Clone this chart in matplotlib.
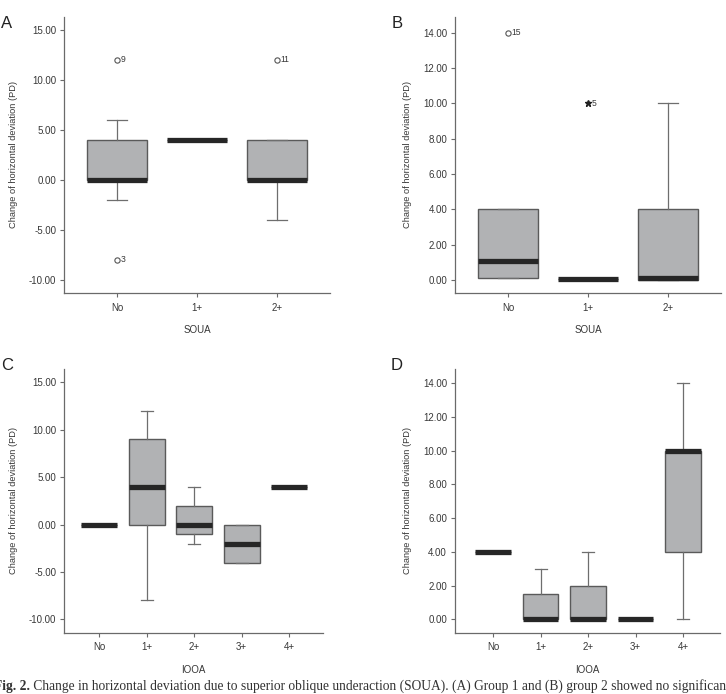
import matplotlib
matplotlib.use("Agg")
import matplotlib.pyplot as plt

plt.rcParams['font.family'] = ['Liberation Sans', 'DejaVu Sans']

# ---------------- data ----------------
# Panel A (SOUA, group 1)
a_cats = ["No", "1+", "2+"]
a_q1 = [0, 4, 0]
a_med = [0, 4, 0]
a_q3 = [4, 4, 4]
a_wlo = [-2, 4, -4]
a_whi = [6, 4, 4]
a_out_x = [0, 0, 2]
a_out_y = [12, -8, 12]
a_out_lab = ["9", "3", "11"]
a_out_kind = ["o", "o", "o"]
a_ticks = [-10, -5, 0, 5, 10, 15]

# Panel B (SOUA, group 2)
b_cats = ["No", "1+", "2+"]
b_q1 = [0.1, 0.05, 0]
b_med = [1.05, 0.05, 0.12]
b_q3 = [4, 0.05, 4]
b_wlo = [0.1, 0.05, 0]
b_whi = [4, 0.05, 10]
b_out_x = [0, 1]
b_out_y = [14, 10]
b_out_lab = ["15", "5"]
b_out_kind = ["o", "*"]
b_ticks = [0, 2, 4, 6, 8, 10, 12, 14]

# Panel C (IOOA, group 1)
c_cats = ["No", "1+", "2+", "3+", "4+"]
c_q1 = [0, 0, -1, -4, 4]
c_med = [0, 4, 0, -2, 4]
c_q3 = [0, 9, 2, 0, 4]
c_wlo = [0, -8, -2, -4, 4]
c_whi = [0, 12, 4, 0, 4]
c_ticks = [-10, -5, 0, 5, 10, 15]

# Panel D (IOOA, group 2)
d_cats = ["No", "1+", "2+", "3+", "4+"]
d_q1 = [4, 0, 0, 0, 4]
d_med = [4, 0, 0, 0, 10]
d_q3 = [4, 1.5, 2, 0, 10]
d_wlo = [4, 0, 0, 0, 0]
d_whi = [4, 3, 4, 0, 14]
d_ticks = [0, 2, 4, 6, 8, 10, 12, 14]

ylabel = "Change of horizontal deviation (PD)"
caption_bold = "Fig. 2."
caption_rest = (" Change in horizontal deviation due to superior oblique underaction "
                "(SOUA). (A) Group 1 and (B) group 2 showed no significant")

# ---------------- style ----------------
W, H = 726, 694
fig = plt.figure(figsize=(W / 100, H / 100), dpi=100)

BOX_FILL = "#b1b2b4"
BOX_EDGE = "#5a5a5a"
MED_COL = "#262626"
WHISK_COL = "#6e6e6e"
SPINE_COL = "#6a6a6a"
TEXT_COL = "#383838"


def px_axes(l, r, b, t):
    return fig.add_axes([l / W, 1 - b / H, (r - l) / W, (b - t) / H])


def draw_panel(ax, cats, q1, med, q3, wlo, whi, ticks, ylim, xlim, xlabel,
               out_x=(), out_y=(), out_lab=(), out_kind=()):
    stats = []
    for i in range(len(cats)):
        stats.append(dict(q1=q1[i], med=med[i], q3=q3[i], whislo=wlo[i],
                          whishi=whi[i], fliers=[], label=cats[i]))
    width = 0.75
    ax.bxp(stats, positions=list(range(len(cats))), widths=width,
           patch_artist=True, showfliers=False, capwidths=width / 3,
           boxprops=dict(facecolor=BOX_FILL, edgecolor=BOX_EDGE, linewidth=1.0),
           medianprops=dict(color=MED_COL, linewidth=3.8, solid_capstyle='butt'),
           whiskerprops=dict(color=WHISK_COL, linewidth=0.9),
           capprops=dict(color=WHISK_COL, linewidth=0.9))
    for x, y, lab, kind in zip(out_x, out_y, out_lab, out_kind):
        if kind == "o":
            ax.plot([x], [y], marker="o", ms=3.8, mfc="white", mec="#555555",
                    mew=0.8, linestyle="none")
        else:
            ax.plot([x], [y], marker="*", ms=4.8, color="#222222",
                    linestyle="none")
        ax.annotate(lab, xy=(x, y), xytext=(2.4, 0), textcoords="offset points",
                    ha="left", va="center", fontsize=6.2, color=TEXT_COL)
    ax.set_xlim(*xlim)
    ax.set_ylim(*ylim)
    ax.set_yticks(ticks)
    ax.set_yticklabels([f"{t:.2f}" for t in ticks])
    ax.set_xticks(list(range(len(cats))))
    ax.set_xticklabels(cats)
    for s in ["top", "right"]:
        ax.spines[s].set_visible(False)
    for s in ["left", "bottom"]:
        ax.spines[s].set_color(SPINE_COL)
        ax.spines[s].set_linewidth(0.9)
    ax.tick_params(axis="both", direction="out", length=3, width=0.8,
                   color=SPINE_COL, labelsize=7.0, labelcolor=TEXT_COL, pad=2.5)
    ax.tick_params(axis="x", pad=4)
    ax.set_xlabel(xlabel, fontsize=7.0, color=TEXT_COL, labelpad=9)
    ax.set_ylabel(ylabel, fontsize=6.7, color=TEXT_COL, labelpad=8)


axA = px_axes(64, 330, 293, 17)
draw_panel(axA, a_cats, a_q1, a_med, a_q3, a_wlo, a_whi, a_ticks,
           (-11.3, 16.3), (-0.66, 2.66), "SOUA",
           a_out_x, a_out_y, a_out_lab, a_out_kind)

axB = px_axes(455, 721, 293, 17)
draw_panel(axB, b_cats, b_q1, b_med, b_q3, b_wlo, b_whi, b_ticks,
           (-0.74, 14.9), (-0.66, 2.66), "SOUA",
           b_out_x, b_out_y, b_out_lab, b_out_kind)

axC = px_axes(64, 323, 632.7, 369)
draw_panel(axC, c_cats, c_q1, c_med, c_q3, c_wlo, c_whi, c_ticks,
           (-11.4, 16.4), (-0.74, 4.71), "IOOA")

axD = px_axes(454.7, 720, 632.7, 369)
draw_panel(axD, d_cats, d_q1, d_med, d_q3, d_wlo, d_whi, d_ticks,
           (-0.79, 14.85), (-0.81, 4.78), "IOOA")

# panel letters
for lab, x, y in [("A", 1, 23), ("B", 392, 23), ("C", 1, 365), ("D", 391, 365)]:
    fig.text(x / W, 1 - y / H, lab, fontsize=12, color="#222222",
             ha="left", va="center")

# caption (cut at the bottom / right edge, as in the reference)
t1 = fig.text(-6 / W, 1 - 690 / H, caption_bold, fontsize=9.75, weight="bold",
              family="Liberation Serif", color="#333333", va="baseline")
axA.annotate(caption_rest, xy=(1, 0), xycoords=t1, va="bottom", ha="left",
             fontsize=9.75, family="Liberation Serif", color="#333333",
             annotation_clip=False)

fig.savefig("out.png", dpi=100)
